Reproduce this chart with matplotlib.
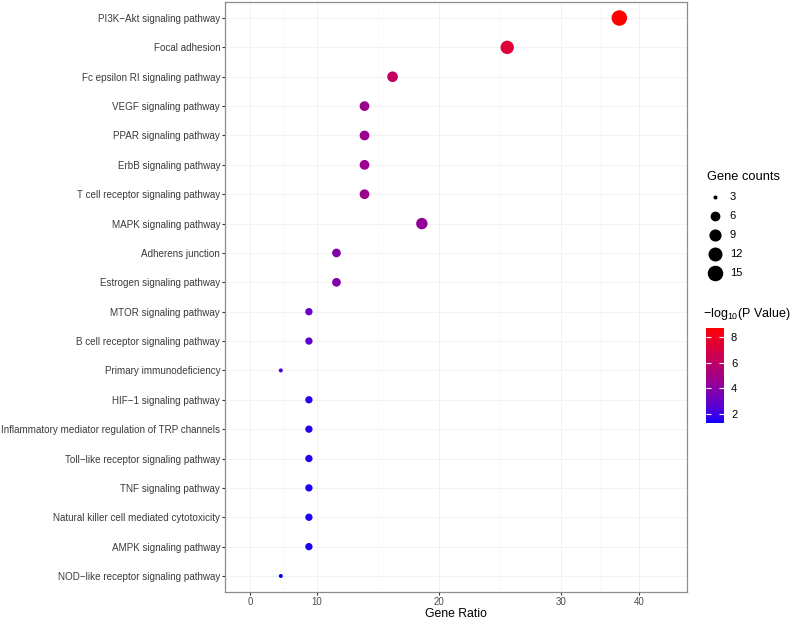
import numpy as np
import matplotlib
matplotlib.use("Agg")
import matplotlib.pyplot as plt
from matplotlib.colors import ListedColormap, Normalize

plt.rcParams['font.family'] = ['Liberation Sans', 'DejaVu Sans']
plt.rcParams['mathtext.fontset'] = 'custom'
plt.rcParams['mathtext.rm'] = 'Liberation Sans'
plt.rcParams['mathtext.it'] = 'Liberation Sans:italic'

# =========================
# DATA
# =========================
pathways = [
    "PI3K−Akt signaling pathway",
    "Focal adhesion",
    "Fc epsilon RI signaling pathway",
    "VEGF signaling pathway",
    "PPAR signaling pathway",
    "ErbB signaling pathway",
    "T cell receptor signaling pathway",
    "MAPK signaling pathway",
    "Adherens junction",
    "Estrogen signaling pathway",
    "MTOR signaling pathway",
    "B cell receptor signaling pathway",
    "Primary immunodeficiency",
    "HIF−1 signaling pathway",
    "Inflammatory mediator regulation of TRP channels",
    "Toll−like receptor signaling pathway",
    "TNF signaling pathway",
    "Natural killer cell mediated cytotoxicity",
    "AMPK signaling pathway",
    "NOD−like receptor signaling pathway",
]
gene_ratio = [37.5, 25.6, 16.2, 13.9, 13.9, 13.9, 13.9, 18.6, 11.6, 11.6,
              8.8, 8.8, 4.6, 8.8, 8.8, 8.8, 8.8, 8.8, 8.8, 4.6]
gene_counts = [15, 11, 7, 6, 6, 6, 6, 8, 5, 5,
               4, 4, 3, 4, 4, 4, 4, 4, 4, 3]
neg_log_p = [8.7, 7.3, 6.1, 4.7, 4.7, 4.7, 4.7, 4.3, 3.9, 3.8,
             2.9, 2.8, 2.2, 1.7, 1.6, 1.55, 1.5, 1.5, 1.45, 1.3]

size_breaks = [3, 6, 9, 12, 15]
x_ticks = [0, 10, 20, 30, 40]
color_ticks = [2, 4, 6, 8]

# =========================
# HELPERS
# =========================
# blue -> red gradient, half Lab / half RGB interpolation
M = np.array([[0.4124, 0.3576, 0.1805],
              [0.2126, 0.7152, 0.0722],
              [0.0193, 0.1192, 0.9505]])
WHITE = np.array([0.95047, 1.0, 1.08883])
D = 6 / 29


def rgb_to_lab(rgb):
    c = np.asarray(rgb, float)
    lin = np.where(c <= 0.04045, c / 12.92, ((c + 0.055) / 1.055) ** 2.4)
    xyz = M @ lin / WHITE
    f = np.where(xyz > D ** 3, np.cbrt(xyz), xyz / (3 * D ** 2) + 4 / 29)
    return np.array([116 * f[1] - 16, 500 * (f[0] - f[1]), 200 * (f[1] - f[2])])


def lab_to_rgb(lab):
    L, a, b = lab
    fy = (L + 16) / 116
    f = np.array([fy + a / 500, fy, fy - b / 200])
    xyz = np.where(f > D, f ** 3, 3 * D ** 2 * (f - 4 / 29)) * WHITE
    lin = np.clip(np.linalg.solve(M, xyz), 0, 1)
    c = np.where(lin <= 0.0031308, 12.92 * lin, 1.055 * lin ** (1 / 2.4) - 0.055)
    return np.clip(c, 0, 1)


lo, hi = np.array([0, 0, 1.0]), np.array([1.0, 0, 0])
lab_lo, lab_hi = rgb_to_lab(lo), rgb_to_lab(hi)
colors = []
for t in np.linspace(0, 1, 256):
    c_lab = lab_to_rgb(lab_lo + t * (lab_hi - lab_lo))
    c_rgb = lo + t * (hi - lo)
    colors.append(0.5 * c_lab + 0.5 * c_rgb)
cmap = ListedColormap(colors)
norm = Normalize(vmin=min(neg_log_p), vmax=max(neg_log_p))


def marker_area(c):
    # ggplot-like area scaling, diameter in px -> points^2
    d = 4.0 + 11.5 * np.sqrt((np.asarray(c, float) - 3) / 12)
    return (d * 0.72) ** 2


# uneven x axis spacing as in the original figure
TV = np.array(x_ticks, float)
TP = np.array([0, 67, 189, 311, 389], float)


def fwd(x):
    x = np.asarray(x, float)
    y = np.interp(x, TV, TP)
    y = np.where(x < 0, x * 6.7, y)
    y = np.where(x > 40, 389 + (x - 40) * 7.9, y)
    return y


def inv(y):
    y = np.asarray(y, float)
    x = np.interp(y, TP, TV)
    x = np.where(y < 0, y / 6.7, x)
    x = np.where(y > 389, 40 + (y - 389) / 7.9, x)
    return x


# =========================
# PLOT
# =========================
W, H = 791, 620
fig = plt.figure(figsize=(W / 100, H / 100), dpi=100)
ax = fig.add_axes([225 / W, 1 - 592 / H, (687 - 225) / W, (592 - 2) / H])

ypos = np.arange(len(pathways))
ax.set_xscale('function', functions=(fwd, inv))
ax.set_xlim(-3.73, 46.1)
ax.set_ylim(len(pathways) - 1 + 0.545, -0.545)

ax.set_xticks(x_ticks)
ax.set_xticks([5, 15, 25, 35], minor=True)
ax.set_yticks(ypos)
ax.set_yticklabels(pathways)
ax.grid(True, which='major', color='#f2f2f2', lw=0.7)
ax.grid(True, which='minor', axis='x', color='#f7f7f7', lw=0.4)
ax.set_axisbelow(True)

ax.scatter(gene_ratio, ypos, s=marker_area(gene_counts), c=neg_log_p,
           cmap=cmap, norm=norm, linewidths=0, zorder=3)

for sp in ax.spines.values():
    sp.set_color('#8c8c8c')
    sp.set_linewidth(0.9)
ax.tick_params(axis='both', which='major', length=2.3, width=0.8,
               color='#333333', labelcolor='#3a3a3a', labelsize=7.15, pad=1.2)
ax.tick_params(axis='x', which='major', labelsize=7, labelcolor='#4d4d4d',
               pad=1.5)
ax.tick_params(axis='both', which='minor', length=0)
ax.set_xlabel("Gene Ratio", fontsize=8.8, va='center')
ax.xaxis.set_label_coords(0.5, (592 - 614) / 590)

# size legend
handles = [ax.scatter([], [], s=marker_area(c), color='black', linewidths=0)
           for c in size_breaks]
leg = fig.legend(handles, [str(c) for c in size_breaks], title="Gene counts",
                 loc='upper left', bbox_to_anchor=(703 / W, 1 - 167 / H),
                 frameon=False, fontsize=8, title_fontsize=9.3,
                 labelspacing=0.8, handlelength=1.3, handletextpad=0.7,
                 borderaxespad=0, alignment='left')

# colour bar
cax = fig.add_axes([706 / W, 1 - 423 / H, 18 / W, 95 / H])
sm = plt.cm.ScalarMappable(cmap=cmap, norm=norm)
cb = fig.colorbar(sm, cax=cax, ticks=color_ticks)
cb.outline.set_visible(False)
cax.tick_params(color='white', direction='in', length=3.5, width=0.8,
                left=True, right=True, labelsize=8, pad=5)
fig.text(703 / W, 1 - 314 / H, r"$-$log$_{10}$(P Value)", fontsize=9,
         ha='left', va='center')

fig.savefig("out.png", dpi=100)
